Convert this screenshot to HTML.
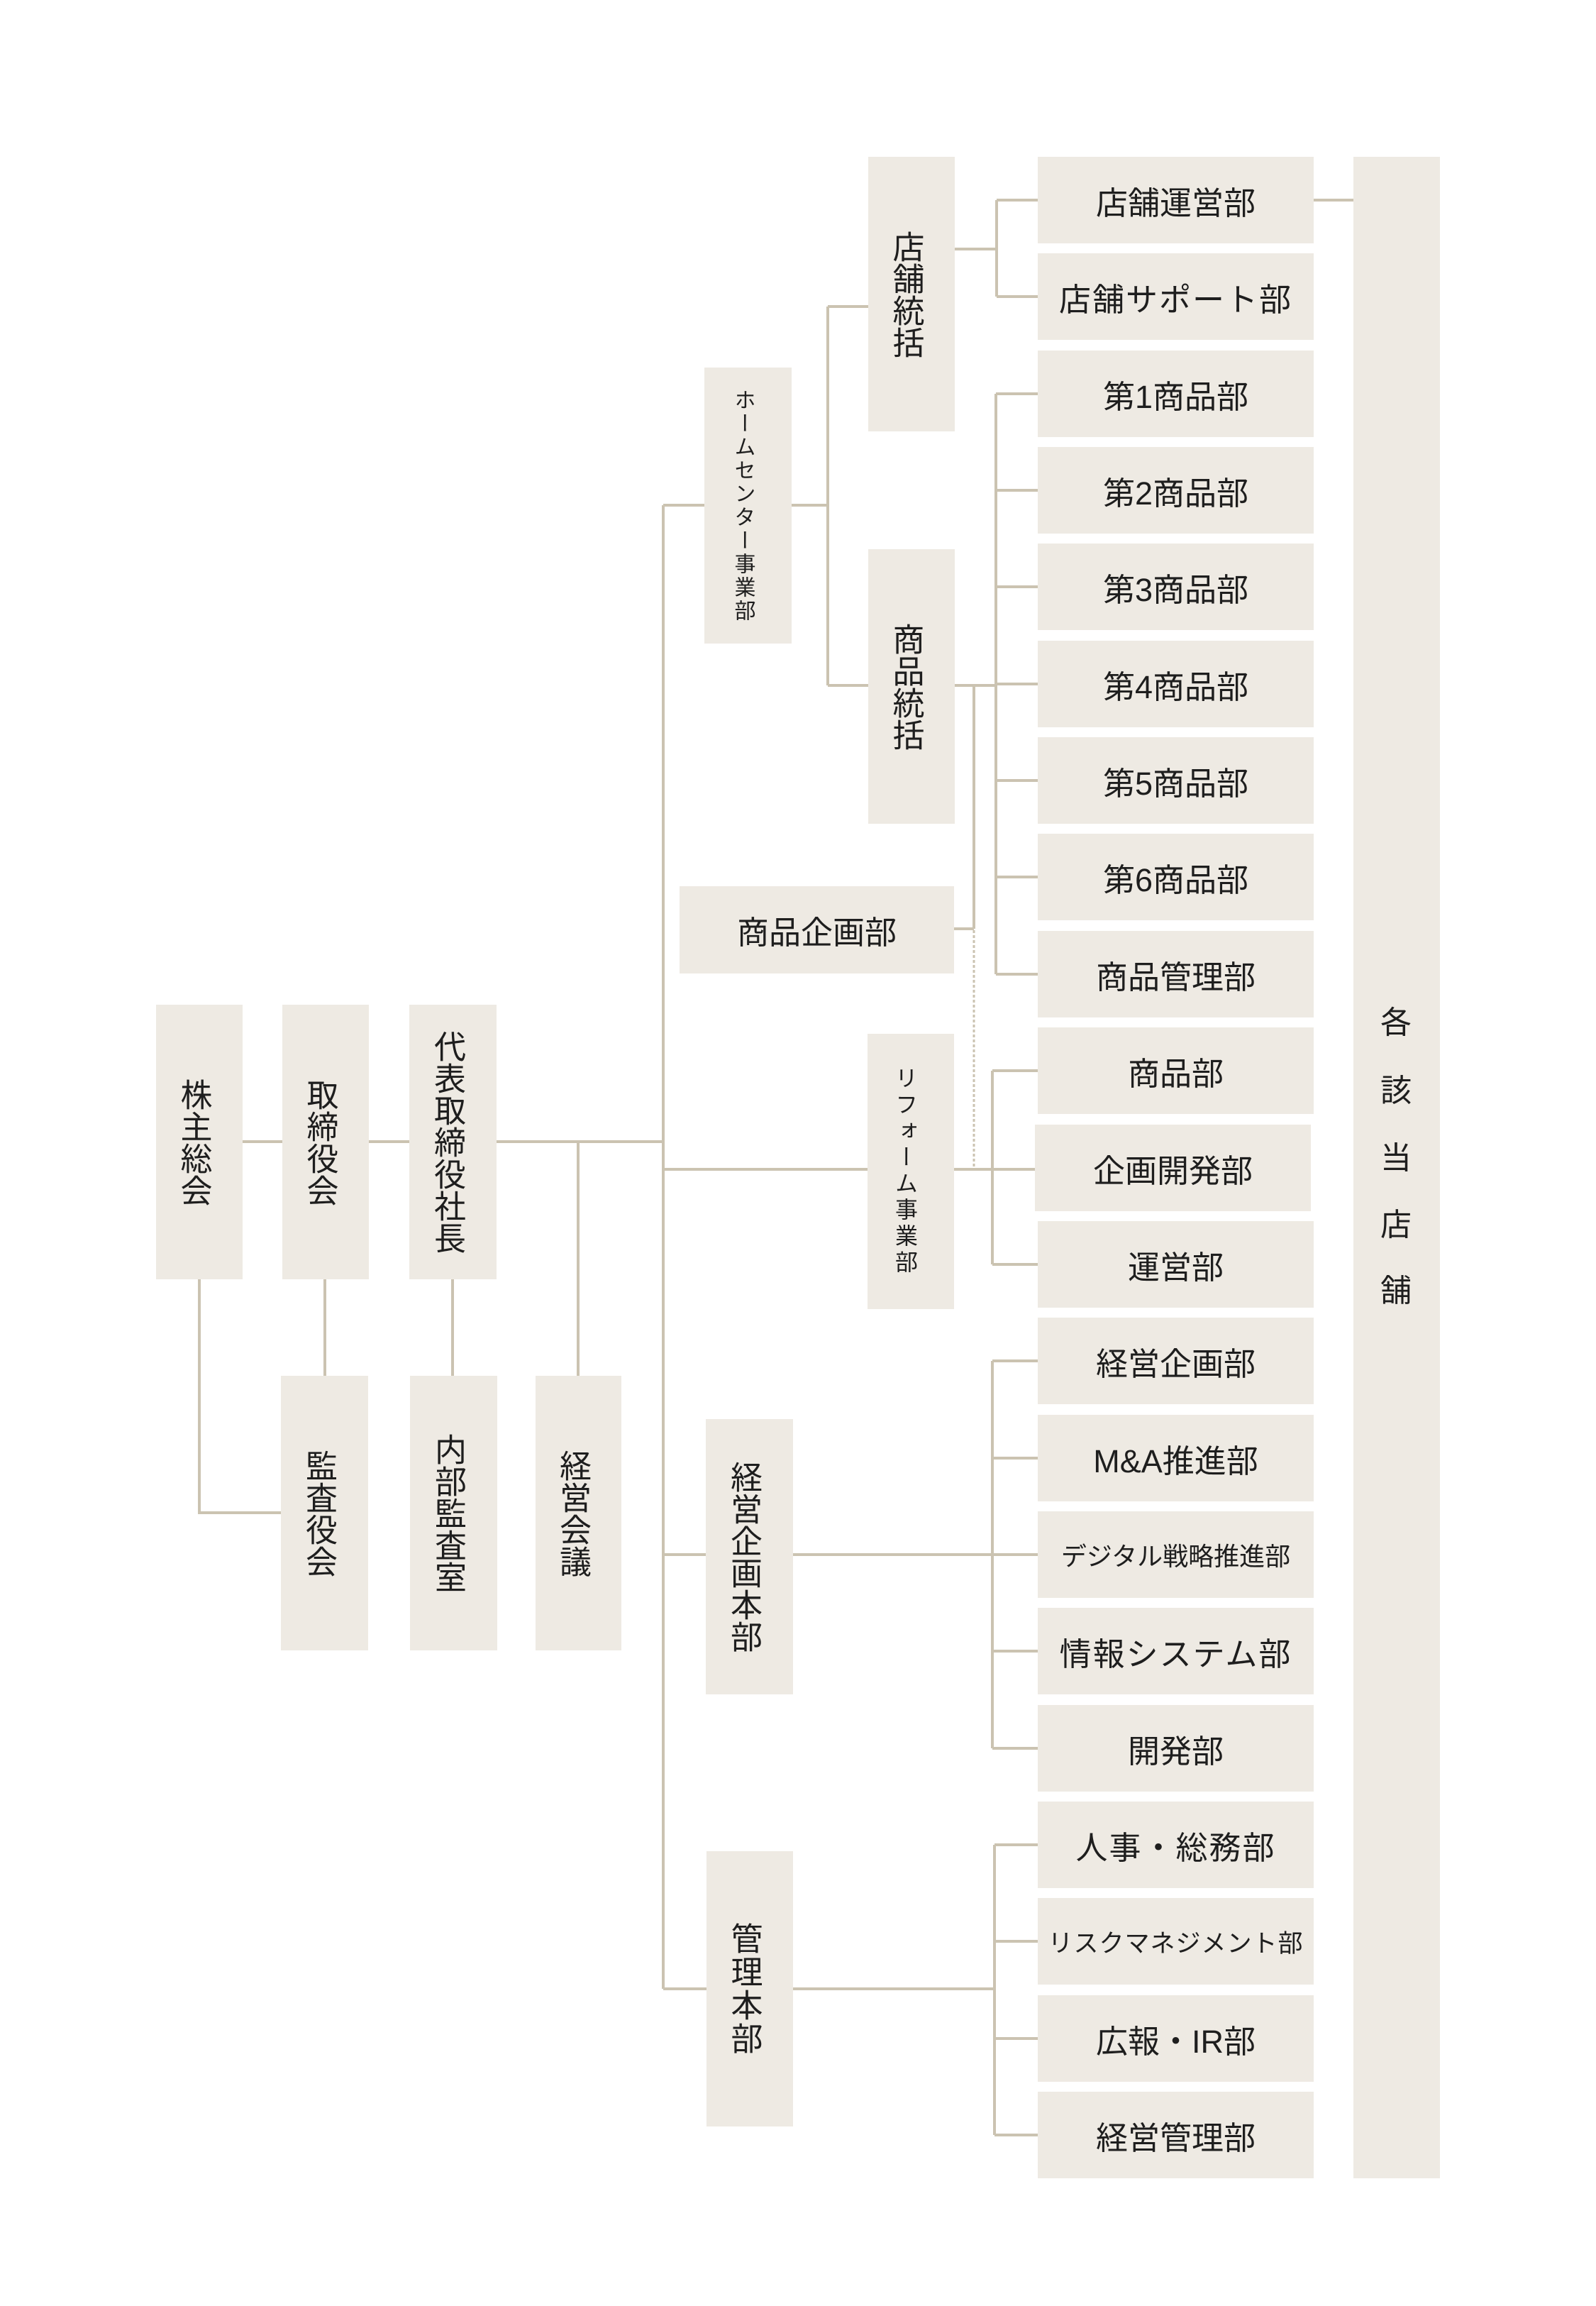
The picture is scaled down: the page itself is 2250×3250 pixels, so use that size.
<!DOCTYPE html>
<html><head><meta charset="utf-8">
<style>
html,body{margin:0;padding:0;background:#fff;}
body{width:2250px;height:3250px;position:relative;overflow:hidden;font-family:"Liberation Sans","Noto Sans CJK JP",sans-serif;color:#1e1e1e;}
.b{position:absolute;background:#eeeae3;display:flex;align-items:center;justify-content:center;font-size:45px;white-space:nowrap;box-sizing:border-box;}
.v{writing-mode:vertical-rl;text-orientation:upright;padding-right:16px;}
.d{left:1463px;width:389px;height:122px;}
.c{position:absolute;left:1938px;width:60px;text-align:center;font-size:44px;line-height:60px;}
svg{position:absolute;left:0;top:0;}
</style></head><body>
<svg width="2250" height="3250" viewBox="0 0 2250 3250">
<g stroke="#cbc3b1" stroke-width="4" fill="none">
<path d="M342 1609H398M520 1609H577M700 1609H935"/>
<path d="M281 1803V2132H396"/>
<path d="M458 1803V1939M638 1803V1939M815 1609V1939"/>
<path d="M935 712V2803"/>
<path d="M935 712H993M935 1648H1223M935 2191H995M935 2803H996"/>
<path d="M1116 712H1167M1167 432V966M1167 432H1224M1167 966H1224"/>
<path d="M1346 351H1405M1405 282V418M1405 282H1463M1405 418H1463"/>
<path d="M1852 282H1908"/>
<path d="M1346 966H1404M1404 555V1373M1404 555H1463M1404 691H1463M1404 827H1463M1404 964H1463M1404 1100H1463M1404 1236H1463M1404 1373H1463"/>
<path d="M1373 966V1309M1345 1309H1373"/>
<path d="M1345 1648H1459M1399 1509V1782M1399 1509H1463M1399 1782H1463"/>
<path d="M1118 2191H1463M1399 1918V2464M1399 1918H1463M1399 2055H1463M1399 2327H1463M1399 2464H1463"/>
<path d="M1118 2803H1402M1402 2600V3009M1402 2600H1463M1402 2736H1463M1402 2873H1463M1402 3009H1463"/>
</g>
<path d="M1373 1311V1648" stroke="#cbc3b1" stroke-width="3" stroke-dasharray="4 3" fill="none"/>
</svg>

<div class="b v" style="left:220px;top:1416px;width:122px;height:387px;">株主総会</div>
<div class="b v" style="left:398px;top:1416px;width:122px;height:387px;">取締役会</div>
<div class="b v" style="left:577px;top:1416px;width:123px;height:387px;">代表取締役社長</div>
<div class="b v" style="left:396px;top:1939px;width:123px;height:387px;">監査役会</div>
<div class="b v" style="left:578px;top:1939px;width:123px;height:387px;">内部監査室</div>
<div class="b v" style="left:755px;top:1939px;width:121px;height:387px;">経営会議</div>

<div class="b v" style="left:993px;top:518px;width:123px;height:389px;font-size:30px;letter-spacing:3px;">ホームセンター事業部</div>
<div class="b v" style="left:1224px;top:221px;width:122px;height:387px;">店舗統括</div>
<div class="b v" style="left:1224px;top:774px;width:122px;height:387px;">商品統括</div>
<div class="b" style="left:958px;top:1249px;width:387px;height:123px;">商品企画部</div>
<div class="b v" style="left:1223px;top:1457px;width:122px;height:388px;font-size:32px;letter-spacing:5px;">リフォーム事業部</div>
<div class="b v" style="left:995px;top:2000px;width:123px;height:388px;">経営企画本部</div>
<div class="b v" style="left:996px;top:2609px;width:122px;height:388px;letter-spacing:2px;">管理本部</div>

<div class="b d" style="top:221px;">店舗運営部</div>
<div class="b d" style="top:357px;letter-spacing:2px;">店舗サポート部</div>
<div class="b d" style="top:494px;">第1商品部</div>
<div class="b d" style="top:630px;">第2商品部</div>
<div class="b d" style="top:766px;">第3商品部</div>
<div class="b d" style="top:903px;">第4商品部</div>
<div class="b d" style="top:1039px;">第5商品部</div>
<div class="b d" style="top:1175px;">第6商品部</div>
<div class="b d" style="top:1312px;">商品管理部</div>
<div class="b d" style="top:1448px;">商品部</div>
<div class="b d" style="top:1585px;left:1459px;">企画開発部</div>
<div class="b d" style="top:1721px;">運営部</div>
<div class="b d" style="top:1857px;">経営企画部</div>
<div class="b d" style="top:1994px;">M&amp;A推進部</div>
<div class="b d" style="top:2130px;font-size:36px;">デジタル戦略推進部</div>
<div class="b d" style="top:2266px;letter-spacing:2px;">情報システム部</div>
<div class="b d" style="top:2403px;">開発部</div>
<div class="b d" style="top:2539px;letter-spacing:2px;">人事・総務部</div>
<div class="b d" style="top:2675px;font-size:35px;letter-spacing:1px;">リスクマネジメント部</div>
<div class="b d" style="top:2812px;">広報・IR部</div>
<div class="b d" style="top:2948px;">経営管理部</div>

<div class="b" style="left:1908px;top:221px;width:122px;height:2849px;"></div>
<div class="c" style="top:1412px;">各</div>
<div class="c" style="top:1508px;">該</div>
<div class="c" style="top:1603px;">当</div>
<div class="c" style="top:1697px;">店</div>
<div class="c" style="top:1790px;">舗</div>
</body></html>
